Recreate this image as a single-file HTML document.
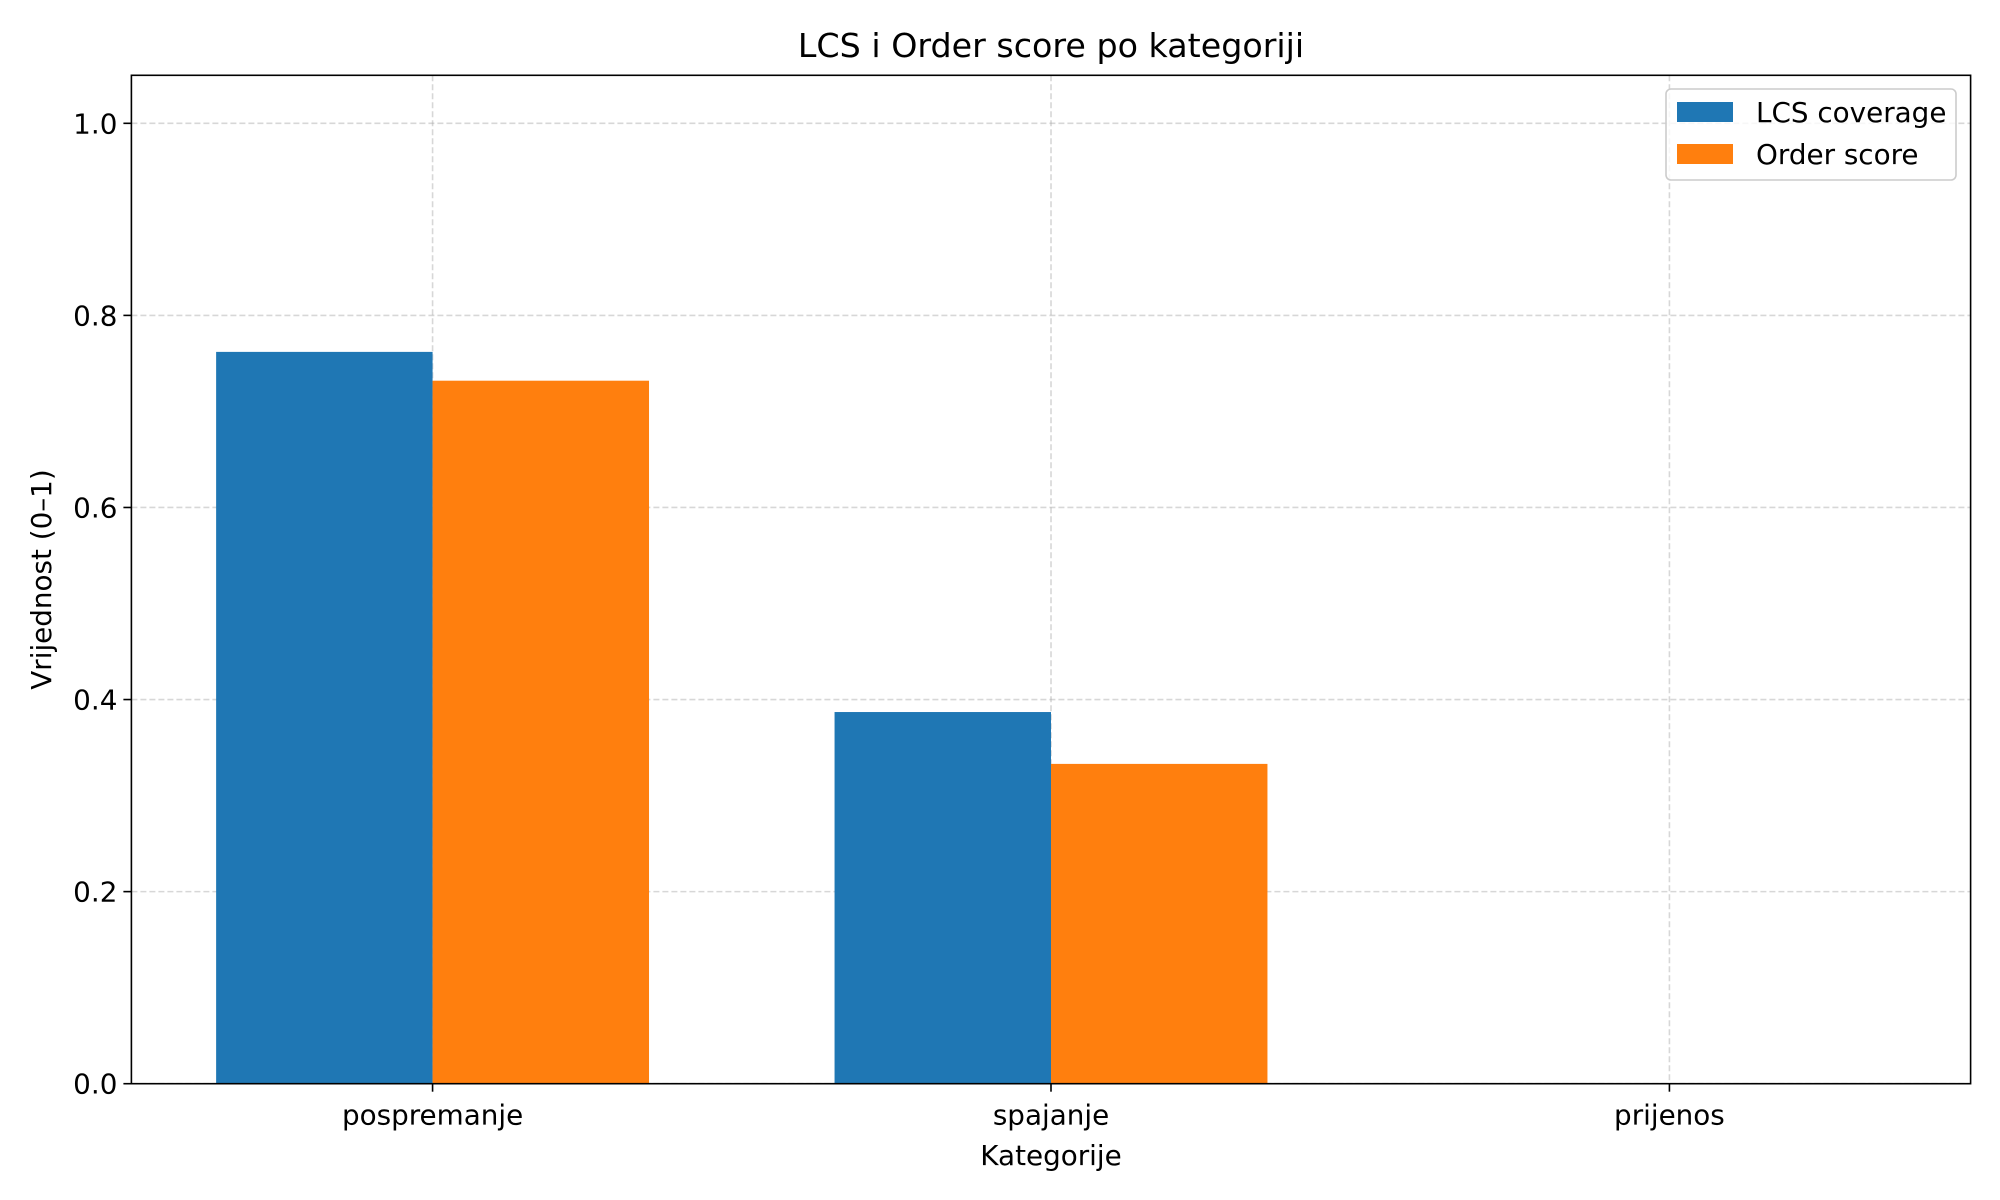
<!DOCTYPE html>
<html><head><meta charset="utf-8"><style>
html,body{margin:0;padding:0;background:#fff}
svg{display:block;font-family:"DejaVu Sans","Liberation Sans",sans-serif}
</style></head><body>
<svg id="chart" width="2000" height="1200" viewBox="0 0 2000 1200">
<rect width="2000" height="1200" fill="#fff"/>
<g id="grid"></g>
<g id="bars"></g>
<g id="axes"></g>
</svg>
<script>
const categories = ["pospremanje", "spajanje", "prijenos"];
const lcsValues = [0.762, 0.387, 0];
const orderValues = [0.732, 0.333, 0];
const yTicks = [0.0, 0.2, 0.4, 0.6, 0.8, 1.0];
const yTickLabels = ["0.0", "0.2", "0.4", "0.6", "0.8", "1.0"];

const L = 131.4, R = 1970.6, T = 75.3, B = 1083.7;
const yMax = 1.05, xMin = -0.487, xMax = 2.487, barW = 0.35;
const xs = v => L + (v - xMin) / (xMax - xMin) * (R - L);
const ys = v => B - v / yMax * (B - T);
const NS = "http://www.w3.org/2000/svg";
function mk(tag, attrs, parent, text) {
  const e = document.createElementNS(NS, tag);
  for (const k in attrs) e.setAttribute(k, attrs[k]);
  if (text !== undefined) e.textContent = text;
  parent.appendChild(e);
  return e;
}
const grid = document.getElementById('grid');
const bars = document.getElementById('bars');
const axes = document.getElementById('axes');

yTicks.forEach((t, i) => {
  const y = ys(t);
  const g = mk('line', {x1: L, x2: R, y1: y, y2: y, stroke: '#b0b0b0', 'stroke-opacity': 0.5, 'stroke-width': 1.6, 'stroke-dasharray': '6,3'}, grid);
  
  
  const tk = mk('line', {x1: L - 8, x2: L, y1: y, y2: y, stroke: '#000', 'stroke-width': 1.6}, axes);
  
  
  const tl = mk('text', {x: L - 14, y: y + 10, 'text-anchor': 'end', 'font-size': 27.8}, axes, yTickLabels[i]);
  
  
});
categories.forEach((c, i) => {
  const x = xs(i);
  const g = mk('line', {x1: x, x2: x, y1: T, y2: B, stroke: '#b0b0b0', 'stroke-opacity': 0.5, 'stroke-width': 1.6, 'stroke-dasharray': '6,3'}, grid);
  
  
  const b1 = mk('rect', {x: xs(i - barW), y: ys(lcsValues[i]), width: xs(i) - xs(i - barW), height: ys(0) - ys(lcsValues[i]), fill: '#1f77b4'}, bars);
  
  
  const b2 = mk('rect', {x: xs(i), y: ys(orderValues[i]), width: xs(i + barW) - xs(i), height: ys(0) - ys(orderValues[i]), fill: '#ff7f0e'}, bars);
  
  
  const tk = mk('line', {x1: x, x2: x, y1: B, y2: B + 8, stroke: '#000', 'stroke-width': 1.6}, axes);
  
  
  const tl = mk('text', {x: x, y: B + 41, 'text-anchor': 'middle', 'font-size': 27.8}, axes, c);
  
  
});
const frame = mk('rect', {x: L, y: T, width: R - L, height: B - T, fill: 'none', stroke: '#000', 'stroke-width': 1.6}, axes);


const title = mk('text', {x: (L + R) / 2, y: 57, 'text-anchor': 'middle', 'font-size': 33.3}, axes, 'LCS i Order score po kategoriji');


const xl = mk('text', {x: (L + R) / 2, y: 1165, 'text-anchor': 'middle', 'font-size': 27.8}, axes, 'Kategorije');


const yl = mk('text', {x: 0, y: 0, 'text-anchor': 'middle', 'font-size': 27.8, transform: 'translate(51,' + ((T + B) / 2) + ') rotate(-90)'}, axes, 'Vrijednost (0–1)');



const leg = mk('g', {}, axes);


mk('rect', {x: 1666, y: 89, width: 290, height: 91, rx: 5, fill: '#fff', 'fill-opacity': 0.8, stroke: '#ccc', 'stroke-width': 1.6}, leg);
const le1 = mk('g', {}, leg);


mk('rect', {x: 1677, y: 102, width: 56, height: 20, fill: '#1f77b4'}, le1);
mk('text', {x: 1756, y: 122, 'font-size': 27.8}, le1, 'LCS coverage');
const le2 = mk('g', {}, leg);


mk('rect', {x: 1677, y: 144, width: 56, height: 20, fill: '#ff7f0e'}, le2);
mk('text', {x: 1756, y: 164, 'font-size': 27.8}, le2, 'Order score');
</script>
</body></html>
